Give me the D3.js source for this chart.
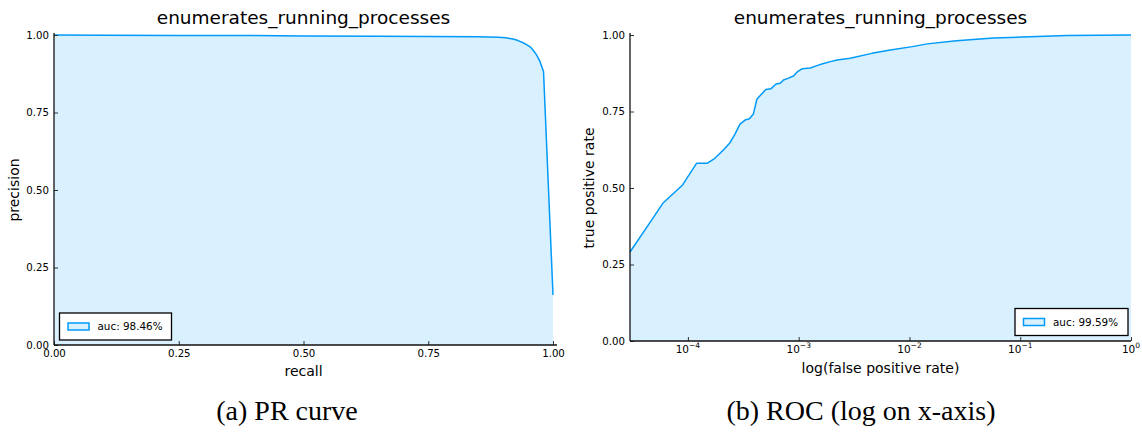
<!DOCTYPE html>
<html>
<head>
<meta charset="utf-8">
<script src="https://cdn.jsdelivr.net/npm/d3@7"></script>
<style>
  body { margin: 0; background: #fff; }
  svg text { font-family: "DejaVu Sans", sans-serif; fill: #000; }
  .caption { font-family: "Liberation Serif", serif; }
</style>
</head>
<body>
<svg id="chart" width="1142" height="432"></svg>
<script>
// ---- data ----
const chartTitle = "enumerates_running_processes";

// precision-recall curve
const prRecall    = [0.00, 0.10, 0.25, 0.40, 0.50, 0.65, 0.75, 0.85, 0.89, 0.905, 0.92, 0.93, 0.94, 0.947, 0.954, 0.959, 0.964, 0.969, 0.974, 0.977, 0.981, 1.00];
const prPrecision = [1.000, 0.999, 0.998, 0.998, 0.997, 0.996, 0.995, 0.994, 0.993, 0.991, 0.987, 0.982, 0.975, 0.969, 0.962, 0.953, 0.943, 0.930, 0.914, 0.900, 0.882, 0.161];
const prAucLabel = "auc: 98.46%";

// ROC curve (false positive rate on a log axis)
const rocFpr = [3.0e-5, 4.7e-5, 6.0e-5, 8.95e-5, 1.20e-4, 1.50e-4, 1.75e-4, 2.09e-4, 2.40e-4, 2.66e-4,
                2.95e-4, 3.28e-4, 3.59e-4, 3.90e-4, 4.19e-4, 5.05e-4, 5.60e-4, 6.25e-4, 6.81e-4, 7.29e-4,
                8.09e-4, 8.97e-4, 9.75e-4, 1.08e-3, 1.27e-3, 1.46e-3, 1.62e-3, 1.93e-3, 2.22e-3, 2.92e-3,
                4.57e-3, 6.73e-3, 1.06e-2, 1.45e-2, 2.66e-2, 5.73e-2, 0.123, 0.263, 1.0];
const rocTpr = [0.291, 0.395, 0.452, 0.510, 0.581, 0.581, 0.597, 0.624, 0.648, 0.676,
                0.709, 0.722, 0.726, 0.742, 0.790, 0.822, 0.824, 0.840, 0.842, 0.853,
                0.859, 0.866, 0.880, 0.890, 0.892, 0.900, 0.905, 0.913, 0.918, 0.924,
                0.940, 0.951, 0.962, 0.971, 0.981, 0.990, 0.994, 0.998, 1.000];
const rocAucLabel = "auc: 99.59%";

const linearTicks = [0, 0.25, 0.5, 0.75, 1];
const logTickExponents = [-4, -3, -2, -1, 0];
const captions = ["(a) PR curve", "(b) ROC (log on x-axis)"];

// ---- drawing ----
const BLUE = "#009afa";
const svg = d3.select("#chart");
svg.append("rect").attr("width", 1142).attr("height", 432).attr("fill", "#fff");

function drawPanel(cfg) {
  const g = svg.append("g");
  const x = cfg.xScale, y = cfg.yScale;
  const pts = cfg.xs.map((v, i) => [v, cfg.ys[i]]);

  // filled area under the curve
  g.append("path")
    .datum(pts)
    .attr("d", d3.area().x(d => x(d[0])).y0(y(0)).y1(d => y(d[1])))
    .attr("fill", BLUE).attr("fill-opacity", 0.15);

  g.append("path")
    .datum(pts)
    .attr("d", d3.line().x(d => x(d[0])).y(d => y(d[1])))
    .attr("fill", "none").attr("stroke", BLUE).attr("stroke-width", 1.5)
    .attr("stroke-linejoin", "round");

  // axes with inward ticks
  const xAxis = d3.axisBottom(x).tickValues(cfg.xTicks).tickSize(-4).tickSizeOuter(0)
    .tickPadding(5).tickFormat(cfg.xFormat || "");
  const gx = g.append("g").attr("transform", `translate(0,${y(0)})`).call(xAxis);
  const yAxis = d3.axisLeft(y).tickValues(linearTicks).tickSize(-4).tickSizeOuter(0)
    .tickPadding(5).tickFormat(d3.format(".2f"));
  const gy = g.append("g").attr("transform", `translate(${x.range()[0]},0)`).call(yAxis);

  [gx, gy].forEach(a => {
    a.select(".domain").remove();
    a.selectAll(".tick line").attr("stroke", "#333").attr("stroke-width", 1);
    a.selectAll(".tick text").attr("font-size", 10.2).attr("font-family", "DejaVu Sans");
  });

  // axis lines
  const [xl, xr] = x.range();
  g.append("line").attr("x1", xl).attr("x2", xr + cfg.xOver).attr("y1", y(0)).attr("y2", y(0))
    .attr("stroke", "#111").attr("stroke-width", 1.3);
  g.append("line").attr("x1", xl).attr("x2", xl).attr("y1", y(0)).attr("y2", y(1) - 2)
    .attr("stroke", "#111").attr("stroke-width", 1.3);

  if (cfg.logLabels) {
    cfg.xTicks.forEach((v, i) => {
      const t = g.append("text").attr("x", x(v)).attr("y", y(0) + 12)
        .attr("text-anchor", "middle").attr("font-size", 10.5);
      t.append("tspan").text("10");
      t.append("tspan").attr("dy", -5).attr("font-size", 7.5)
        .text(cfg.logLabels[i]);
    });
  }

  // title and axis labels
  const cx = (xl + xr) / 2;
  g.append("text").attr("x", cx).attr("y", 24).attr("text-anchor", "middle")
    .attr("font-size", 18.5).text(chartTitle);
  g.append("text").attr("x", cx).attr("y", cfg.xLabelY).attr("text-anchor", "middle")
    .attr("font-size", 14).text(cfg.xLabel);
  g.append("text")
    .attr("transform", `translate(${cfg.yLabelX},${(y(0) + y(1)) / 2}) rotate(-90)`)
    .attr("text-anchor", "middle").attr("font-size", 14).text(cfg.yLabel);

  // legend
  const L = cfg.legend;
  g.append("rect").attr("x", L.x).attr("y", L.y).attr("width", L.w).attr("height", L.h)
    .attr("fill", "#fff").attr("stroke", "#000").attr("stroke-width", 1.3);
  g.append("rect").attr("x", L.x + 8.5).attr("y", L.y + L.h / 2 - 3.5).attr("width", 21).attr("height", 7)
    .attr("fill", BLUE).attr("fill-opacity", 0.15).attr("stroke", BLUE).attr("stroke-width", 1.5);
  g.append("text").attr("x", L.x + 38).attr("y", L.y + L.h / 2 + 3.8)
    .attr("font-size", 10.4).text(L.label);

  // caption
  svg.append("text").attr("class", "caption").attr("x", cfg.captionX).attr("y", 420)
    .attr("text-anchor", "middle").attr("font-size", 28)
    .style("font-family", "'Liberation Serif', serif").text(cfg.caption);
}

drawPanel({
  xs: prRecall, ys: prPrecision,
  xScale: d3.scaleLinear().domain([0, 1]).range([54, 553]),
  yScale: d3.scaleLinear().domain([0, 1]).range([345, 35]),
  xTicks: linearTicks, xFormat: d3.format(".2f"), xOver: 4,
  xLabel: "recall", xLabelY: 376,
  yLabel: "precision", yLabelX: 19,
  legend: { x: 59.5, y: 313, w: 112, h: 27, label: prAucLabel },
  caption: captions[0], captionX: 287
});

drawPanel({
  xs: rocFpr, ys: rocTpr,
  xScale: d3.scaleLog().domain([3.0e-5, 1]).range([630, 1131]),
  yScale: d3.scaleLinear().domain([0, 1]).range([341, 35]),
  xTicks: logTickExponents.map(e => Math.pow(10, e)), xFormat: () => "", xOver: 0,
  logLabels: logTickExponents.map(e => e < 0 ? "\u2212" + Math.abs(e) : String(e)),
  xLabel: "log(false positive rate)", xLabelY: 373,
  yLabel: "true positive rate", yLabelX: 594,
  legend: { x: 1015, y: 308.5, w: 113, h: 27, label: rocAucLabel },
  caption: captions[1], captionX: 861
});
</script>
</body>
</html>
